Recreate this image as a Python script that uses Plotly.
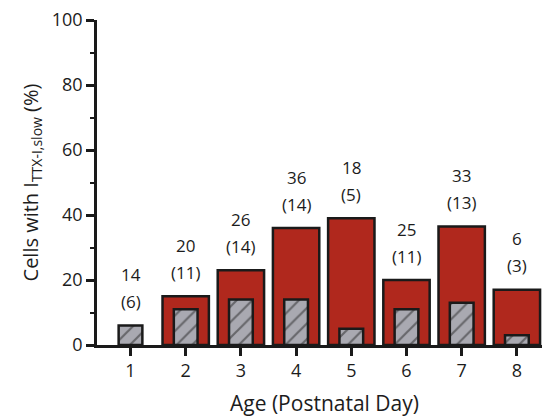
import plotly.graph_objects as go

# Postnatal age (days)
days = [1, 2, 3, 4, 5, 6, 7, 8]
# Percentage of cells showing the slow TTX-insensitive current
pct_cells = [0, 15, 23, 36, 39, 20, 36.5, 17]
# Hatched inner bars
inner_vals = [6, 11, 14, 14, 5, 11, 13, 3]
# Total cells recorded (n) and cells with the current (in parentheses)
n_total = [14, 20, 26, 36, 18, 25, 33, 6]
n_pos = [6, 11, 14, 14, 5, 11, 13, 3]

FONT = "'Open Sans', Lato, sans-serif"
TEXT = "#1c1c1c"
RED = "#b0281d"
GREY = "#a9a9b1"
EDGE = "#1a1a1a"

fig = go.Figure()
fig.add_trace(go.Bar(
    x=days, y=pct_cells, width=0.84,
    marker=dict(color=RED,
                line=dict(color=EDGE, width=[0 if v == 0 else 2.5 for v in pct_cells])),
    showlegend=False,
))
fig.add_trace(go.Bar(
    x=days, y=inner_vals, width=0.43,
    marker=dict(
        color=GREY,
        line=dict(color=EDGE, width=2.5),
        pattern=dict(shape="/", fgcolor="#262626", bgcolor=GREY, size=11, solidity=0.2),
    ),
    showlegend=False,
))

# Count labels above each group
for d, r, g, n, k in zip(days, pct_cells, inner_vals, n_total, n_pos):
    top = max(r, g)
    fig.add_annotation(x=d, y=top, text=f"({k})", showarrow=False,
                       yshift=24, yanchor="middle",
                       font=dict(family=FONT, size=17, color=TEXT))
    fig.add_annotation(x=d, y=top, text=str(n), showarrow=False,
                       yshift=51, yanchor="middle",
                       font=dict(family=FONT, size=17, color=TEXT))

fig.add_annotation(xref="paper", yref="paper", x=0.511, y=-0.178,
                   text="Age (Postnatal Day)", showarrow=False,
                   xanchor="center", yanchor="middle",
                   font=dict(family=FONT, size=21, color=TEXT))

fig.update_layout(
    width=542, height=417,
    margin=dict(l=97, r=0, t=20, b=72),
    barmode="overlay",
    plot_bgcolor="white", paper_bgcolor="white",
    font=dict(family=FONT, size=17, color=TEXT),
    xaxis=dict(
        range=[0.393, 8.455],
        tickmode="array", tickvals=days, ticktext=[str(d) for d in days],
        showline=True, linecolor=EDGE, linewidth=2.5,
        ticks="outside", ticklen=8, tickwidth=2.5, tickcolor=EDGE,
        showgrid=False, zeroline=False,
        tickfont=dict(family=FONT, size=18, color=TEXT),
    ),
    yaxis=dict(
        range=[0, 100],
        tickmode="array", tickvals=[0, 20, 40, 60, 80, 100],
        showline=True, linecolor=EDGE, linewidth=2.5,
        ticks="outside", ticklen=8, tickwidth=2.5, tickcolor=EDGE,
        minor=dict(tickvals=[10, 30, 50, 70, 90], ticks="outside",
                   ticklen=4, tickwidth=2, tickcolor=EDGE),
        showgrid=False, zeroline=False,
        tickfont=dict(family=FONT, size=18, color=TEXT),
        title=dict(text="Cells with I<sub>TTX-I,slow</sub> (%)",
                   font=dict(family=FONT, size=20, color=TEXT), standoff=8),
    ),
)

fig.write_html("out.html")
